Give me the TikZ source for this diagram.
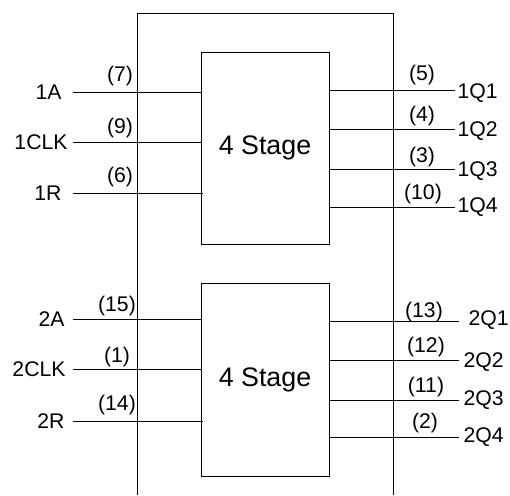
\documentclass[tikz,border=0pt]{standalone}
\usepackage{fontspec}
\setmainfont{Liberation Sans}
\usetikzlibrary{positioning}

\begin{document}
\begin{tikzpicture}[
    x=0.5pt, y=-0.5pt, line width=0.5pt,
    stagebox/.style={rectangle, draw, minimum width=64pt, minimum height=96pt, inner sep=0pt, font=\fontsize{13.4}{16}\selectfont},
    sig/.style={inner sep=0pt, font=\fontsize{10.6}{12}\selectfont},
    pinno/.style={inner sep=0pt, font=\fontsize{10.6}{12}\selectfont}
]
\useasboundingbox (0,0) rectangle (510,495);

% Package outline (open at the bottom)
\coordinate (frameL) at (137,495);
\coordinate (frameR) at (393,495);
\draw (frameL) |- (265,13) -| (frameR);

% Counter stages
\node[stagebox] (stage1) at (265,148) {4 Stage};
\node[stagebox, minimum height=96.5pt] (stage2) at (265,379.5) {4 Stage};

% Inputs, first counter
\coordinate (in1A) at (73,92);
\coordinate (in1CLK) at (73,142);
\coordinate (in1R) at (73,193);
\draw (in1A) -- (in1A -| stage1.west);
\draw (in1CLK) -- (in1CLK -| stage1.west);
\draw (in1R) -- ([xshift=1pt]in1R -| stage1.west);
\node[sig, anchor=east] (l1A) at (62,92) {1A};
\node[sig, anchor=east] (l1CLK) at (68,142) {1CLK};
\node[sig, anchor=east] (l1R) at (62,193) {1R};
\node[pinno] (p7) at (120,76) {(7)};
\node[pinno] (p9) at (120,128) {(9)};
\node[pinno] (p6) at (120,177) {(6)};

% Outputs, first counter
\coordinate (out1Q1) at (455,90);
\coordinate (out1Q2) at (455,129);
\coordinate (out1Q3) at (455,169);
\coordinate (out1Q4) at (455,207);
\draw (out1Q1 -| stage1.east) -- (out1Q1);
\draw (out1Q2 -| stage1.east) -- (out1Q2);
\draw (out1Q3 -| stage1.east) -- (out1Q3);
\draw (out1Q4 -| stage1.east) -- (out1Q4);
\node[sig, anchor=west] (l1Q1) at (457,93) {1Q1};
\node[sig, anchor=west] (l1Q2) at (457,131) {1Q2};
\node[sig, anchor=west] (l1Q3) at (457,171) {1Q3};
\node[sig, anchor=west] (l1Q4) at (457,207) {1Q4};
\node[pinno] (p5) at (422,75) {(5)};
\node[pinno] (p4) at (422,116) {(4)};
\node[pinno] (p3) at (422,157) {(3)};
\node[pinno] (p10) at (423,194) {(10)};

% Inputs, second counter
\coordinate (in2A) at (73,319);
\coordinate (in2CLK) at (73,369);
\coordinate (in2R) at (73,421);
\draw (in2A) -- (in2A -| stage2.west);
\draw (in2CLK) -- (in2CLK -| stage2.west);
\draw (in2R) -- ([xshift=1pt]in2R -| stage2.west);
\node[sig, anchor=east] (l2A) at (65,319) {2A};
\node[sig, anchor=east] (l2CLK) at (66,369) {2CLK};
\node[sig, anchor=east] (l2R) at (65,421) {2R};
\node[pinno] (p15) at (117,306) {(15)};
\node[pinno] (p1) at (117,357) {(1)};
\node[pinno] (p14) at (117,405) {(14)};

% Outputs, second counter
\coordinate (out2Q1) at (459,321);
\coordinate (out2Q2) at (459,360);
\coordinate (out2Q3) at (459,400);
\coordinate (out2Q4) at (459,437);
\draw (out2Q1 -| stage2.east) -- (out2Q1);
\draw (out2Q2 -| stage2.east) -- (out2Q2);
\draw (out2Q3 -| stage2.east) -- (out2Q3);
\draw (out2Q4 -| stage2.east) -- (out2Q4);
\node[sig, anchor=west] (l2Q1) at (468,320) {2Q1};
\node[sig, anchor=west] (l2Q2) at (463,362) {2Q2};
\node[sig, anchor=west] (l2Q3) at (463,400) {2Q3};
\node[sig, anchor=west] (l2Q4) at (463,437) {2Q4};
\node[pinno] (p13) at (424,312) {(13)};
\node[pinno] (p12) at (426,347) {(12)};
\node[pinno] (p11) at (426,387) {(11)};
\node[pinno] (p2) at (425,423) {(2)};

\end{tikzpicture}
\end{document}
